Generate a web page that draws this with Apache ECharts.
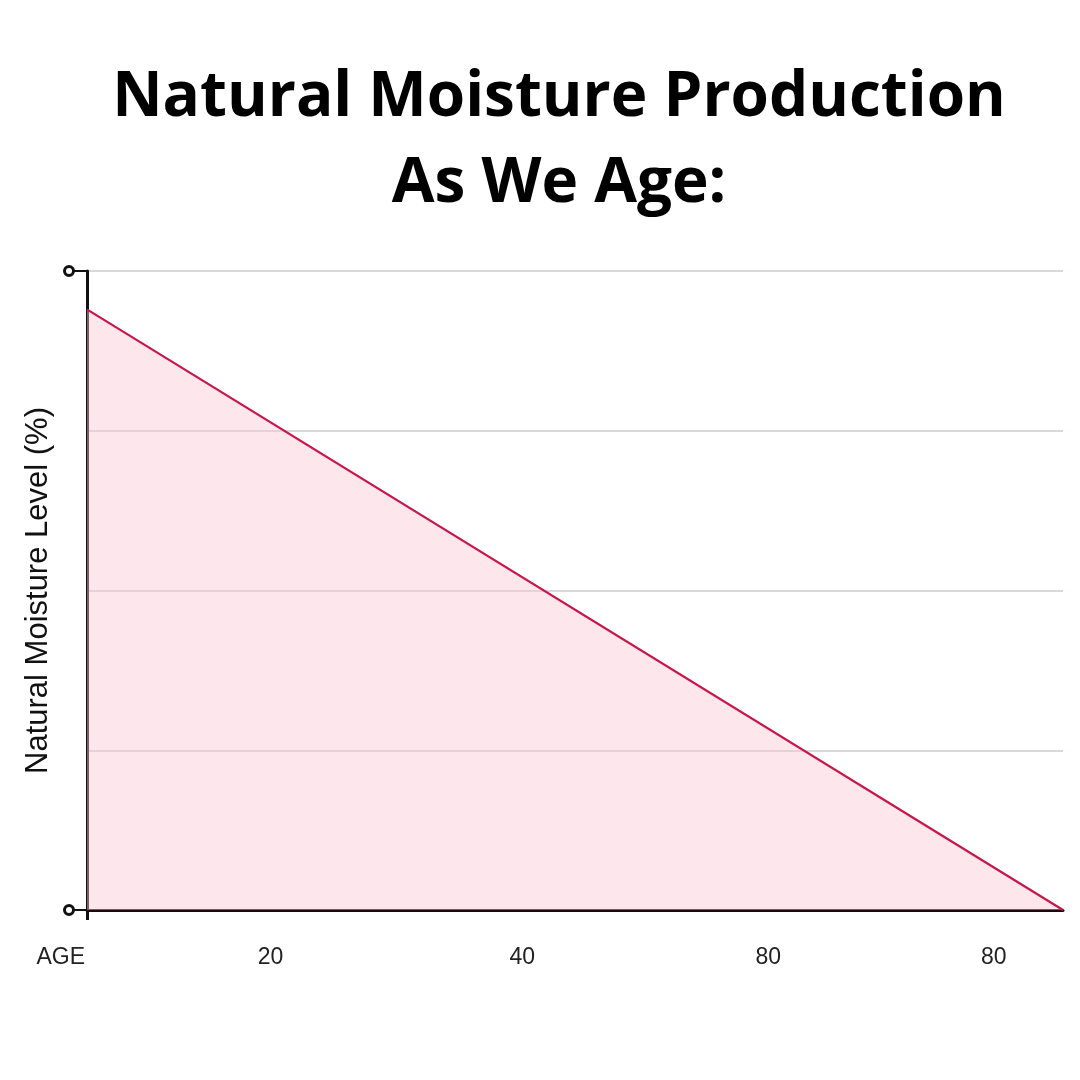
<!DOCTYPE html>
<html>
<head>
<meta charset="utf-8">
<script src="https://cdn.jsdelivr.net/npm/echarts@6/dist/echarts.min.js"></script>
<style>html,body{margin:0;padding:0;background:#fff}#c{width:1080px;height:1080px}</style>
</head>
<body>
<div id="c"></div>
<script>
// Data
const titleText = 'Natural Moisture Production\nAs We Age:';
const yAxisName = 'Natural Moisture Level (%)';
const xAxisName = 'AGE';
const agePoints = [0, 100];          // start and end of the line along the age axis
const moistureValues = [94, 0];      // natural moisture level at those points
const xTickPositions = [18.8, 44.6, 69.8, 92.9];
const xTickLabels = ['20', '40', '80', '80'];
const yEndMarks = [0, 100];

const seriesData = agePoints.map((x, i) => [x, moistureValues[i]]);

const chart = echarts.init(document.getElementById('c'), null, {renderer: 'canvas'});
chart.setOption({
  backgroundColor: '#ffffff',
  animation: false,
  title: {
    text: titleText,
    left: 554,
    textAlign: 'center',
    top: 50,
    textStyle: {
      fontFamily: 'Open Sans',
      fontWeight: 700,
      fontSize: 62,
      lineHeight: 86,
      color: '#000000'
    }
  },
  grid: {left: 87, right: 17, top: 271, bottom: 170, containLabel: false},
  xAxis: {
    type: 'value',
    min: 0,
    max: 100,
    name: xAxisName,
    nameLocation: 'start',
    nameGap: 2,
    nameTextStyle: {
      fontFamily: 'Liberation Sans',
      fontSize: 23,
      color: '#222',
      verticalAlign: 'top',
      padding: [36, 0, 0, 0]
    },
    axisLine: {show: true, lineStyle: {color: '#1a0a0e', width: 3}},
    axisTick: {show: true, customValues: [0], length: 10, inside: false, lineStyle: {color: '#111', width: 3}},
    axisLabel: {
      show: true,
      customValues: xTickPositions,
      margin: 36,
      fontFamily: 'Liberation Sans',
      fontSize: 23,
      color: '#222',
      verticalAlign: 'top',
      formatter: function (v) {
        const i = xTickPositions.indexOf(v);
        return i >= 0 ? xTickLabels[i] : '';
      }
    },
    splitLine: {show: false}
  },
  yAxis: [{
    type: 'value',
    min: 0,
    max: 100,
    interval: 25,
    name: yAxisName,
    nameLocation: 'middle',
    nameGap: 33,
    nameTextStyle: {fontFamily: 'Liberation Sans', fontSize: 31, color: '#111'},
    axisLine: {show: true, lineStyle: {color: '#111', width: 3}},
    axisTick: {show: false},
    axisLabel: {show: false},
    splitLine: {show: true, lineStyle: {color: '#c9cdd2', width: 1.5}}
  }, {
    type: 'value',
    position: 'left',
    min: 0,
    max: 100,
    axisLine: {show: false},
    axisTick: {show: true, customValues: yEndMarks, length: 16, lineStyle: {color: '#111', width: 2}},
    axisLabel: {
      show: true,
      customValues: yEndMarks,
      margin: 15,
      formatter: function () { return '{c|}'; },
      rich: {
        c: {width: 6, height: 6, borderRadius: 7, borderWidth: 3, borderColor: '#111', backgroundColor: '#fff'}
      }
    },
    splitLine: {show: false}
  }],
  series: [{
    type: 'line',
    data: seriesData,
    showSymbol: false,
    symbol: 'none',
    lineStyle: {color: '#c8164a', width: 2.2},
    areaStyle: {color: 'rgba(250, 198, 212, 0.62)'},
    z: 3
  }]
});
</script>
</body>
</html>
